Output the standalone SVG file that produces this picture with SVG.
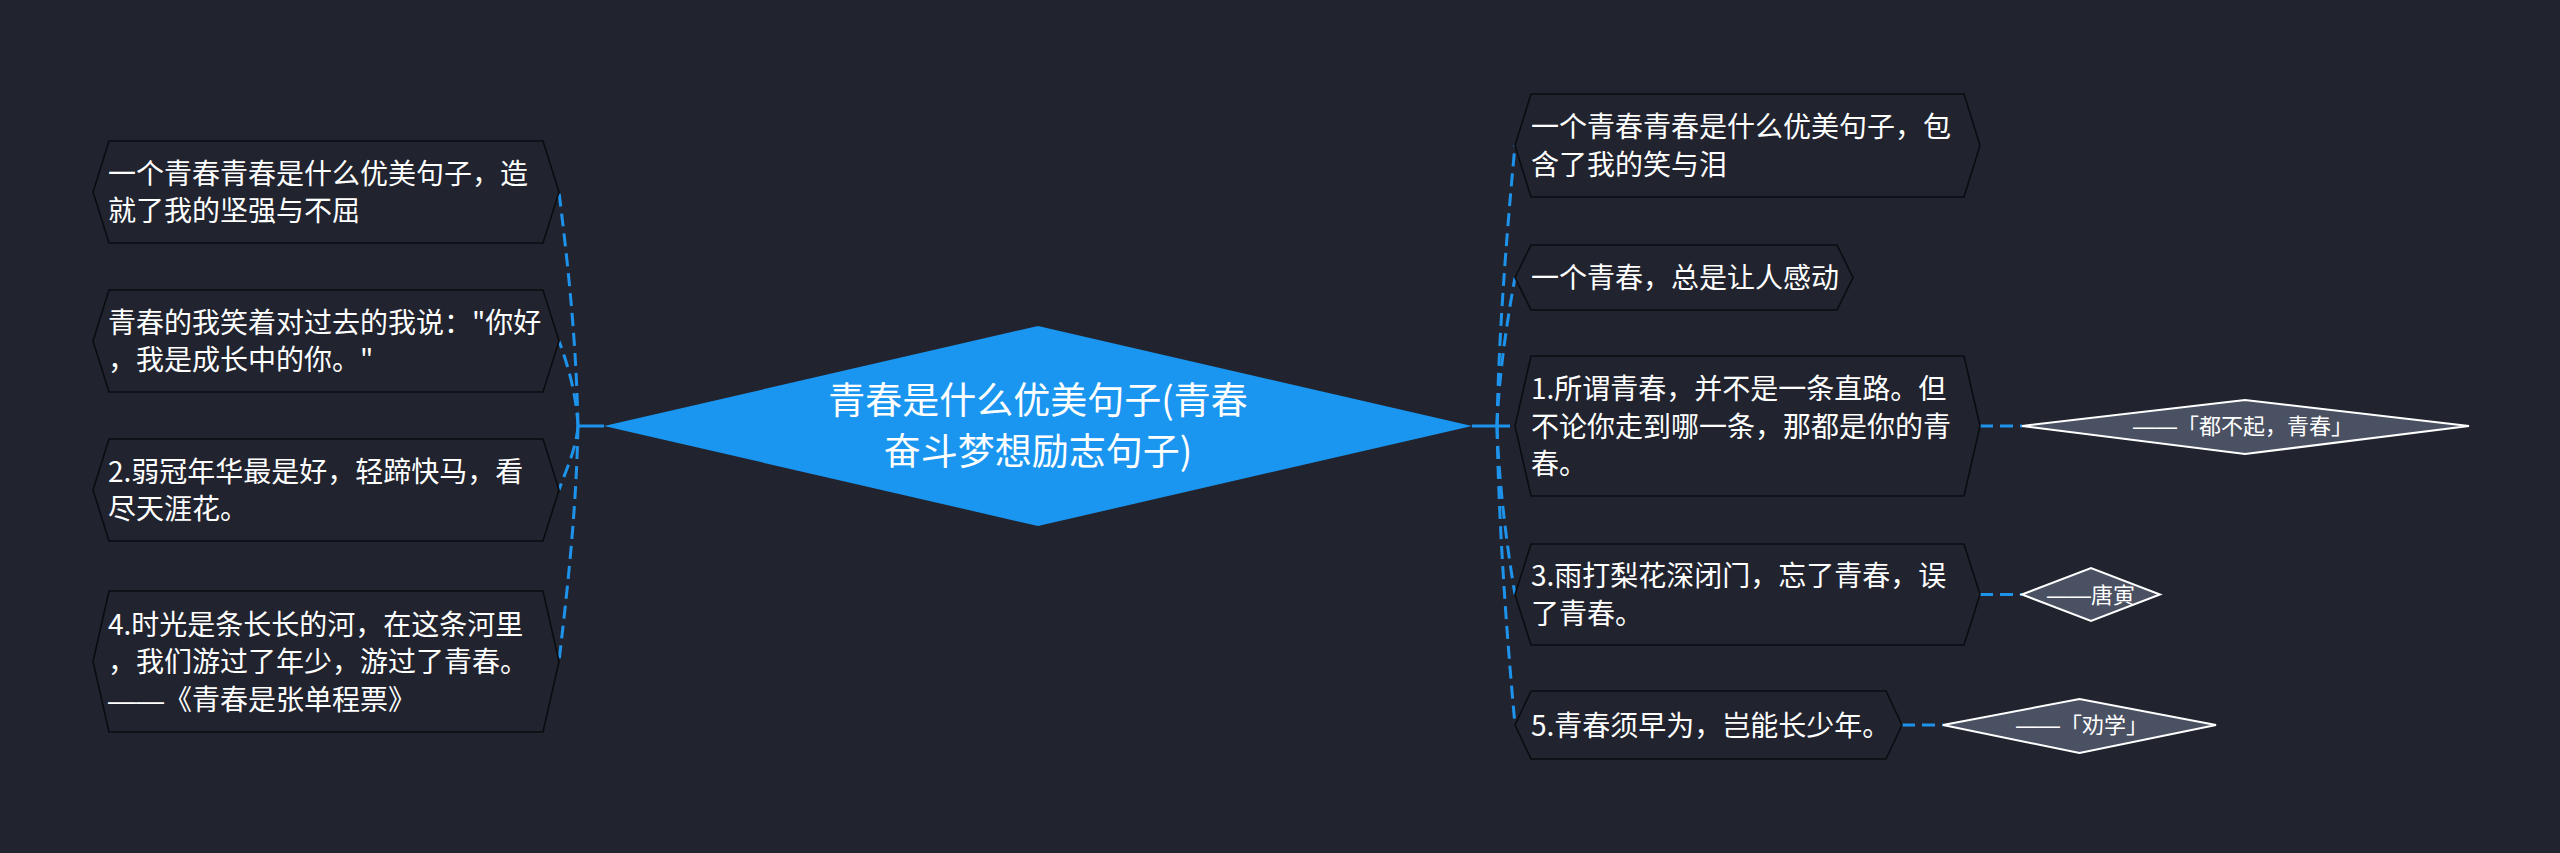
<svg xmlns="http://www.w3.org/2000/svg" width="2560" height="853" viewBox="0 0 2560 853">
<style>
.bg{fill:#21242f}
.node{fill:#21242f;stroke:#0b0c10;stroke-width:1.6}
.t{font-family:"Noto Sans CJK SC","Noto Sans",sans-serif;font-size:28px;fill:#ffffff}
.root{fill:#1a96f0}
.rt{font-family:"Noto Sans CJK SC","Noto Sans",sans-serif;font-size:37px;fill:#ffffff;text-anchor:middle}
.leaf{fill:#4a5163;stroke:#ffffff;stroke-width:2}
.lt{font-family:"Noto Sans CJK SC","Noto Sans",sans-serif;font-size:22px;fill:#ffffff;text-anchor:middle}
.dash{font-family:"Liberation Sans",sans-serif}
.c{fill:none;stroke:#1e93ec;stroke-width:3}
.d{fill:none;stroke:#1e93ec;stroke-width:3;stroke-dasharray:13 7}
</style>
<rect class="bg" x="0" y="0" width="2560" height="853"/>
<g id="connectors">
<path class="c" d="M604,426 L578,426"/>
<path class="c" d="M1472,426 L1497,426"/>
<path class="d" d="M578,426 C576,330 566,250 559,192"/>
<path class="d" d="M578,426 C576,390 566,360 559,341"/>
<path class="d" d="M578,426 C576,450 566,470 559,490"/>
<path class="d" d="M578,426 C576,520 566,600 559,661.5"/>
<path class="d" d="M1497,426 C1499,320 1509,210 1515,145.5"/>
<path class="d" d="M1497,426 C1499,370 1509,310 1515,277.5"/>
<path class="d" d="M1497,426 L1515,426"/>
<path class="d" d="M1497,426 C1499,490 1509,560 1515,594.5"/>
<path class="d" d="M1497,426 C1499,540 1509,660 1515,725"/>
<path class="d" d="M1980,426 L2022,426"/>
<path class="d" d="M1980,594.5 L2022,594.5"/>
<path class="d" d="M1902,725 L1943,725"/>
</g>
<g id="root">
<polygon class="root" points="604,426 1038,326 1472,426 1038,526"/>
<text class="rt" x="1038" y="414">青春是什么优美句子(青春</text>
<text class="rt" x="1038" y="465">奋斗梦想励志句子)</text>
</g>
<g id="n1">
<polygon class="node" points="93,192 109,141 543,141 559,192 543,243 109,243"/>
<text class="t" x="108" y="184">一个青春青春是什么优美句子，造</text>
<text class="t" x="108" y="221">就了我的坚强与不屈</text>
</g>
<g id="n2">
<polygon class="node" points="93,341 109,290 543,290 559,341 543,392 109,392"/>
<text class="t" x="108" y="333">青春的我笑着对过去的我说："你好</text>
<text class="t" x="108" y="370">，我是成长中的你。"</text>
</g>
<g id="n3">
<polygon class="node" points="93,490 109,439 543,439 559,490 543,541 109,541"/>
<text class="t" x="108" y="482">2.弱冠年华最是好，轻蹄快马，看</text>
<text class="t" x="108" y="519">尽天涯花。</text>
</g>
<g id="n4">
<polygon class="node" points="93,661.5 109,591 543,591 559,661.5 543,732 109,732"/>
<text class="t" x="108" y="635">4.时光是条长长的河，在这条河里</text>
<text class="t" x="108" y="672">，我们游过了年少，游过了青春。</text>
<text class="t" x="108" y="710"><tspan class="dash">——</tspan>《青春是张单程票》</text>
</g>
<g id="r1">
<polygon class="node" points="1515,145.5 1531,94 1964,94 1980,145.5 1964,197 1531,197"/>
<text class="t" x="1531" y="137">一个青春青春是什么优美句子，包</text>
<text class="t" x="1531" y="175">含了我的笑与泪</text>
</g>
<g id="r2">
<polygon class="node" points="1515,277.5 1531,245 1837,245 1853,277.5 1837,310 1531,310"/>
<text class="t" x="1531" y="288">一个青春，总是让人感动</text>
</g>
<g id="r3">
<polygon class="node" points="1515,426 1531,356 1964,356 1980,426 1964,496 1531,496"/>
<text class="t" x="1531" y="399">1.所谓青春，并不是一条直路。但</text>
<text class="t" x="1531" y="436.5">不论你走到哪一条，那都是你的青</text>
<text class="t" x="1531" y="474">春。</text>
</g>
<g id="r4">
<polygon class="node" points="1515,594.5 1531,544 1964,544 1980,594.5 1964,645 1531,645"/>
<text class="t" x="1531" y="586">3.雨打梨花深闭门，忘了青春，误</text>
<text class="t" x="1531" y="623.5">了青春。</text>
</g>
<g id="r5">
<polygon class="node" points="1515,725 1531,691 1886,691 1902,725 1886,759 1531,759"/>
<text class="t" x="1531" y="735.5">5.青春须早为，岂能长少年。</text>
</g>
<g id="leaf1">
<polygon class="leaf" points="2022,426 2245,400 2469,426 2245,454"/>
<text class="lt" x="2243" y="434"><tspan class="dash">——</tspan>「都不起，青春」</text>
</g>
<g id="leaf2">
<polygon class="leaf" points="2022,594.5 2091,568 2160,594.5 2091,621"/>
<text class="lt" x="2091" y="602.5"><tspan class="dash">——</tspan>唐寅</text>
</g>
<g id="leaf3">
<polygon class="leaf" points="1943,725 2079.5,699 2216,725 2079.5,753"/>
<text class="lt" x="2082" y="733"><tspan class="dash">——</tspan>「劝学」</text>
</g>
</svg>
